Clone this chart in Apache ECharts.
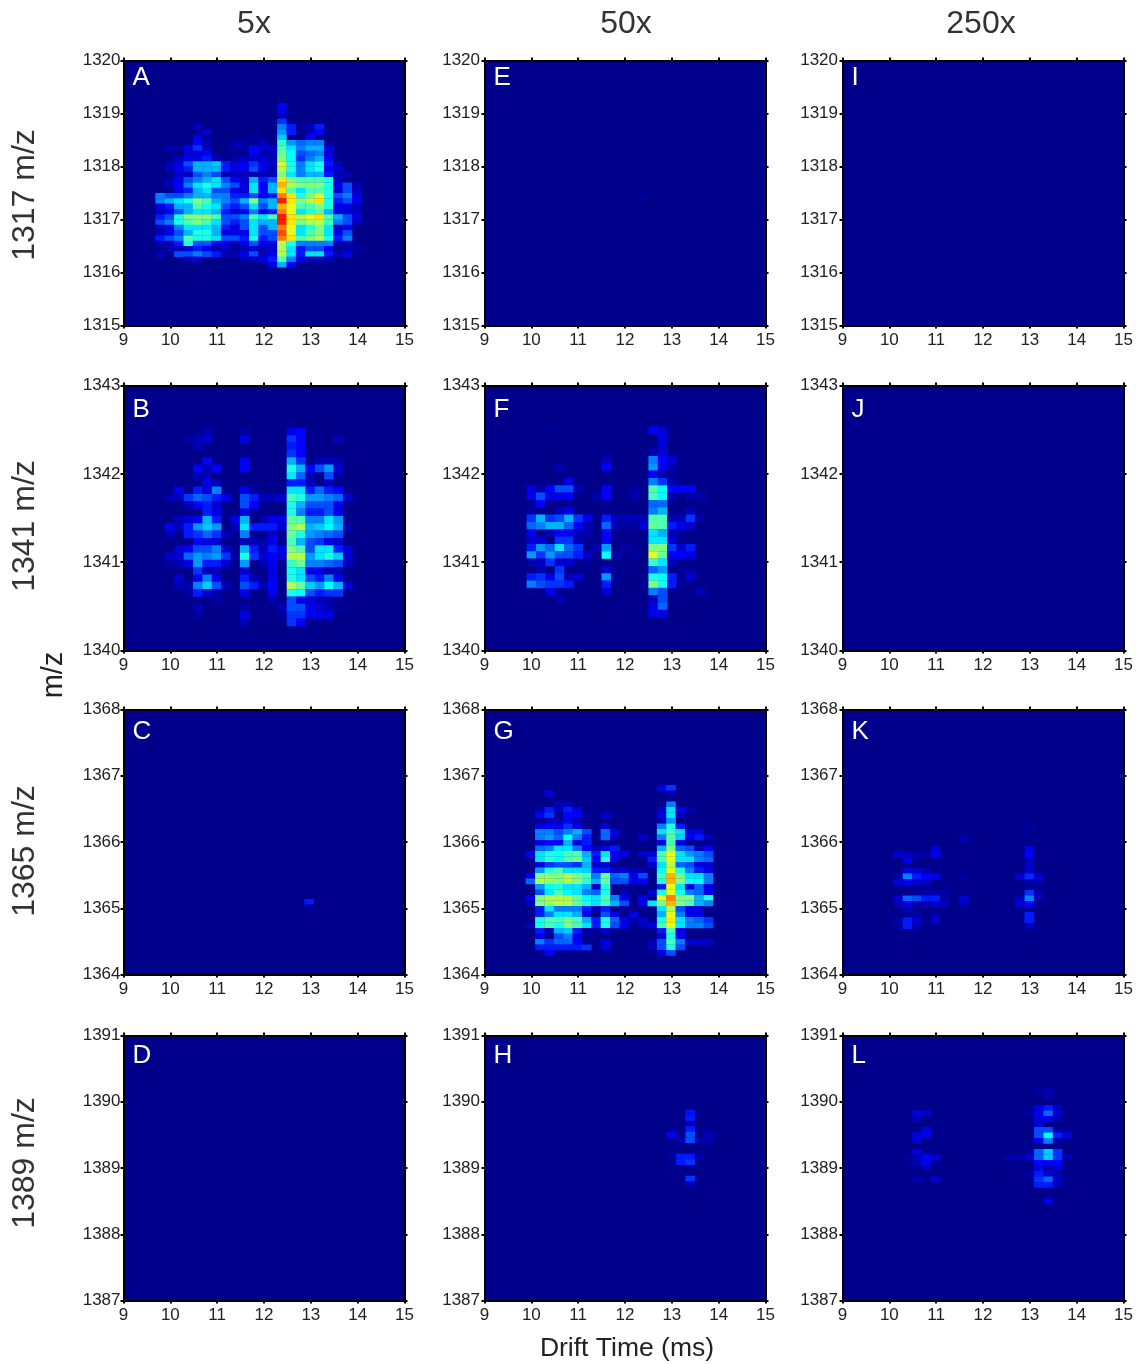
<!DOCTYPE html>
<html>
<head>
<meta charset="utf-8">
<style>html,body{margin:0;padding:0;background:#fff}#c{width:1136px;height:1364px}</style>
<script src="https://cdn.jsdelivr.net/npm/echarts@6/dist/echarts.min.js"></script>
</head>
<body>
<div id="c"></div>
<script>
// Intensity scale: 0..20 on a jet colour map. Rows run top to bottom, columns left to right.
const colTitles = ['5x', '50x', '250x'];
const rowTitles = ['1317 m/z', '1341 m/z', '1365 m/z', '1389 m/z'];
const xTitle = 'Drift Time (ms)';
const yTitle = 'm/z';
const letters = ['A','B','C','D','E','F','G','H','I','J','K','L'];
const xRange = [9, 15];
const yRanges = [[1315, 1320], [1340, 1343], [1364, 1368], [1387, 1391]];

const cellWidthMs = 0.2;

const panelA = [
[0,0,0,0,0,0,0,0,0,0,0,0,0,2.5],
[0,0,0,0,0,0,0,0,0,0,0,0,0,2],
[0,0,0,0,0,0,0,0,0,0,0,0,0,1],
[0,0,0,0,0,0,0,0,0,0,0,0,0,3.5],
[0,0,0,0,1,0,0,0,0,0,0,0,0,5,3,0,1,3],
[0,0,0,0,0,1.5,0,0,0,0,0,0,0,5.5,3,0,1,2.5],
[0,0,0,0,2,0,0,0,0,0,0.5,0,0,6.5,0,0,2.5],
[0,0,0,0,2.5,1,0,0,0.7,0.7,0,1,0,8.5,5.5,4.5,5,5],
[0,0.8,0.5,2,3.5,1,0,0,0.7,0.7,2.5,1.5,1.5,9,7,5,6,6,2],
[0,0,0,1.5,1.5,2.5,0,0,0,0,2.5,0.7,0.7,9.5,7.5,4,4.5,5,1.5],
[0,0,1,2,2,3,1,0,0.8,1,1.5,1.5,0.8,10,7.5,3.5,5,6,2.5],
[0,1,2,4,6,6,6.5,3,1.5,2.5,3.5,2,1.5,12,8,5,7,8,3,1],
[0,1,2,3,6,6,6,3,2,2,4,2,1,11,8,5,7,8,2.5,1.5],
[0,0,1.5,1,4,5,4,1,1,1,1,1,1,10,7,5,6,6,3,1,1],
[0,1,2,4,5,6,7,4,2.5,1.5,6,3,4,13,10,9,9,9,8,1],
[0,1,2.5,5,7,8,7,5,4,2,7,2.5,6,14,11,10,10,10,8,2,4,1],
[0,0,2,3,6,7,4,4,2,1.5,7,2.5,6,13,9,7,9,9,8,1.5,4,1],
[5,4,4,5,6,6,5,5,3,3,4,2,3,15,13,8,10,12,8,4,5,2],
[5,6,7,8,10,9,6,5,4,6,10,5,6,17,13,10,11,13,8,3,4,2],
[2,3,6,6,9,8,7,4,3,4,7,4,6,14,12,9,9,10,8,2,2,1],
[1,2,4,6,7,7,6,3,1.5,2.5,5,2,3,15,12,7,8,9,6,1.5,1.5,1],
[3,4,8,10,10,10,9,4,4,5,9,7,9,17,13,11,12,13,9,6,4,2],
[4,5,8,9,10,9,7,4,3,4,7,6,6,17,13,10,11,11,9,5,4,1],
[1,2,5,7,7,7,6,3,1.5,4,7,4,6,15,12,7,8,10,7,1,2],
[1,2,4,6,8,8,6,2,2,2,7,4,4,16,12,7,9,10,7,2,4],
[3,4,5,9,8,8,7,4,4,3,8,3,4,15,13,9,10,11,8,3,5],
[1,1,3,8,4,4,2,2,1,2,4,2,2,11,8,5,5,5,5,1,1],
[0,1,1,1.5,3,2,1,1,0,1,1.5,0.8,1.5,11,7,3,4,4,2.5,0,0.7,0.5],
[1,0,4,4,5,4,3,1,1,2,4,1,2,11,7,3,7,7,3,1,2],
[0,0,0,1,1.5,0,0,0,0,1,1,2,3,9,5,2,1,1,1],
[0,0,0,0,0,0,0,0,0,0,0,0,2,6,2.5]
];

const panelB = [
[0,0,0,0,0.8,0,0,0,0.5,0,0,0,0,2,2.5],
[0,0,0.5,1,1.5,0,0,0,2,0,0,0,0,3.5,2.5,0,0,0,1],
[0,0,0,1,0,0,0,0,0,0,0,0,0,3,2.5],
[0,0,0,0,0,0,0,0,0,0,0,0,0,3.5,2.5],
[0,0,0,0,2.5,0,0,0,2.5,0,0,0,0,6,3.5,0,1,1,0.8],
[0,0,0,2.5,1,2.5,0,0,2.5,0,0,0,0,8,6,2.5,4,5.5,1.5],
[0,0,0,1,1,0,0,0,0,0,0,0,0,7,4.5,1,0,4,0.5],
[0,0,0,0,2,1,0,0,0,0,0,0,0,3,3,1,0,1],
[0,2,0,3,1.5,5,0,0,2,0.5,0,0,0,7,7,3,4.5,3,2.5],
[1,1,3.5,4.5,4,3,2,0,4,3,1,1,1.5,9,8,5.5,5.5,5,4.5,1.5],
[0,0,1,2.5,3,1.5,0,0,4,2.5,0,0,0,8,6,4,4,4,2],
[0,0,0,0,3,2,0,0,2,0,0,0,0,8,5,3,3,4,2],
[0,1,1.5,2.5,6,3,0,2,6,0,0.8,2,2,9.5,9,5,5,7,5.5],
[2.5,1,3,5.5,6.5,5.5,0,1,7,3,3,3,1.5,10,11,6,6.5,7.5,6,0.8],
[1,0,3,3.5,4.5,3.5,1,0,5,0,0,1.5,0,9.5,8,5.5,5,4.5,4],
[0,0,0,2.5,2,1.5,0,0,1,0.8,0.8,2,0,9,6,4,3.5,2,1.5],
[0,1.5,2.5,4,4,5,1.5,0,6,3,1,3,2,10,9,4,7,7,3,1.5],
[1.5,1.5,4.5,5.5,5,5.5,3.5,0.5,8,3.5,1.5,2.5,1.5,11,11,5.5,7,8,6.5,1.5],
[0.5,0.8,2,5.5,3,3,1.5,0,5.5,0,0.8,2,0,8.5,9.5,5,5,4.5,4,1],
[0,0,0,3.5,1,1,0,0,1.5,0,0,2,0,8,7,2,2,1,1],
[0,1.5,0,2.5,5,2,0,0,3,1,0,2,0,8,7,4,3,5,2],
[0,1,0.8,5,6.5,4,1,0,4,3,0.8,2.5,0,11,9.5,6.5,5.5,7.5,6,1.5],
[0,0,0.5,3,1.5,0.8,0,0,2,0,0,2,0,8,7.5,4,3,3.5,3.5],
[0,0,0,0,0,0.5,0,0,0,0,0,0.8,0,4,2,1.5,1,0.8],
[0,0,0,1,0,0,0,0,0.5,0,0,0,1,4,4,2,1.5,1,0.3],
[0,0,0,0.5,0,0,0,0,2,0,0,0,0.3,3.5,3.5,2,2,2],
[0,0,0,0,0,0,0,0,1,0,0,0,0,3.5,2.5]
];

const panelC = [
[3],
[0.4]
];

const panelD = [];

const panelE = [
[0.4]
];

const panelF = [
[0,0,0.3,0,0,0,0,0,0,0,0,0,0,2.5,1.5],
[0,0,0,0,0,0,0,0,0,0,0,0,0,0,2],
[0,0,0,0,0,0,0,0,0,0,0,0,0,0,1.5],
[0,0,0,0,0,0,0,0,0,0,0,0,0,0.8,1.5],
[0,0,0,0,0,0,0,0,1,0,0,0,0,5,2.5,1.5],
[0,0,0,0.8,0,0,0,0,2.5,0,0,0,0,5.5,2,1],
[0,0,0,0,0,0,0,0,0,0,0,0,0,2.5,0.8],
[0,0,0,0,2,0,0,0,0,0,0,0,0,5,3.5,0.8],
[2,0.7,2.5,4,4,0.8,0,0,2.5,0,0,0.5,0,9,7.5,2.5,2.5,2.5],
[2,4,2,2,2.5,0,0,0.7,2.5,0,0,0.7,0,9,7.5,0.8,0,0.6,0.8],
[0.3,2.5,0,0,0,0,0,0,0.3,0,0,0,0,4.5,4.5],
[0.5,0,0,1,2,0,0,0,0,0,0,0,0,5,6,0,0,1],
[3.5,6,3.5,4,6,3.5,2,0,3,1,1,1,1,9,9,1,1,3.5,0.5],
[4.5,5,6,6,4.5,2.5,0.8,0,4.5,1,0.3,0.4,1.5,9.5,9,3,2,1.5],
[2,0,1,2.5,2,1,0.8,0,2.5,0,0,0,0,7,6,1,0.5],
[1.5,1.5,0,3.5,3.5,0.9,0,0,2.5,0,0,0,0,7,7,1.5],
[3,5.5,4.5,7,4.5,3.5,0,0.8,5.5,0,0.5,0.2,0,10,10,3.5,1.5,3],
[5.5,3.5,5.5,4,4,3,1.5,0,7.5,0.8,0,0.4,0,12,9.5,2.5,2.5,2],
[0.8,1,3.5,1.5,1.5,0,0.3,0,0,0,0,0,0,8.5,7,1],
[0,1,0,3.5,0,0,0,0,1.5,0,0,0,0,4.5,5.5,0,0.3,0.5],
[3,3.5,2,4,1,1.5,0,0,5.5,0.5,0,0,0,8,7.5,3,0,1.5],
[5,4,3.5,3.5,3,0,0,0,3,0,0,0,0.3,10,8,3,0.5],
[0.3,0,2,0.4,0,0,0,0,1.5,0,0,0,0,5,4,0,0,0,1],
[0,0,0,0.8,0,0,0,0,0,0,0,0,0,1,4],
[0,0,0,0,0,0,0,0,0,0,0,0,0,2,4.5],
[0,0,0,0,0,0,0,0,0,0,0,0,0,2,2]
];

const panelG = [
[0,0,0,0,0,0,0,0,0,0,0,0,0,0,2,3.5],
[0,0,2,0,0,0,0,0,0,0,0,0,0,0,0,1],
[],
[0,0,0,1,1,0,0,0,0,0,0,0,0,0,0,5],
[0,1,3,1,3,2,0,0,0,0,0,0,0,0,1.5,7,2,0.7],
[0,2.5,3.5,0,2.5,2.5,0.5,0,1.5,0,0,0,0,0,2,7,1],
[0,0,1,1,2,1,0,0,0,0,0,0,0,0,1,5.5],
[0,2,2.5,2,3.5,2,0,0,1.5,0,0,0,0,0,5,8,3],
[0,5,5,4,5,6,4,0,4.5,2,0,0,0,0,7,9,7,2,2],
[0,5,5.5,4.5,7.5,5,3,0,4.5,1,0,0,1.5,0,5,9,6.5,2,3,1],
[0,2,2.5,2.5,6,2,3,0,0,0,0,0,0,0,2,9,2],
[0,4.5,5,7,7,5,2.5,1,2,3,0,0,0,0,6,10,4.5,4,1,2],
[2,7,8,8,9,9,6,3,7,2,2,0,1.5,1.5,9,12,7,5.5,5,4],
[0,7,8.5,7.5,9,9.5,6.5,2.5,8,2,0,0,0,3,9,12,7,7,5,4.5],
[0,2,3.5,4,4,3.5,6,1.5,1.5,0,0,0,0,1.5,7,11,4.5,4,2,1.5],
[0,5.5,8,9,7,7,6.5,3,3,1.5,1.5,1,1,0,7.5,12,8,5,3,2],
[2,10,10.5,10,11,10,9,5,9.5,4.5,5,2,4,0,9,14,10,7,7,5],
[4.5,11,10.5,10,11,10,8.5,6,9.5,4,4,2,2.5,0,8,14,10,7.5,7.5,5],
[0,5.5,7.5,8,7,7,6,1.5,8,0,0,0,0,0,3,12,7,2,4.5,2],
[0,4,7,9,7.5,7,5,4.5,8,0,1,0,0,1.5,8,12,8,5,4.5,2],
[2,10,11,11,11,9.5,7.5,7,9,5,2,0,2,0,12,15,10,10,6,8],
[1,10,10.5,11,11,9.5,8,7,9,6,4,0,2,7,10,14,10,9,6,5],
[0,3,7,5,5,5,3,1,3,0,0.5,0,0,0,7,11,4,2,1.5],
[0,3,5,7,7,6,2,0,4,2,0,2,0,0,6,12,5,2,2],
[0,8,9,9,10,9,6,3,8,4.5,2,0.8,1.5,0,8,13,7,5,4.5,3.5],
[1,8,9,8,10,9,7,3,8,4,2,0,0.8,2,9,12,7,5,5,4],
[0,3,1,6,6.5,3,0.5,0,1.5,0,0,0,0,0,3,9,2],
[0,2,0,4,5,2,0.5,0,0,0,0,0,0,0,1.5,8,2],
[0,5,3.5,4.5,4.5,2.5,0,0,2,0,0,0,0,1,4,9,5,1.5,1.5,1.5],
[0,3,3,3,3,3,3.5,0,2,0,0,0,0,1,4,8,4],
[0,0,2.5,0,0,0,0,0,0,0,0,0,0,0,2,4]
];

const panelH = [
[0,0,2.8],
[0,0,3],
[0,0,1],
[0.3,0,3,0,0.2],
[2.5,0,4,0,1],
[0,1,4,0.7,0.8],
[],
[0.3],
[0.4,3,3,0.7],
[0,3,3.5],
[0.3],
[],
[0,0,3.5],
[0,0,1]
];

const panelI = [];
const panelJ = [];

const panelK = [
[0,0,0,0,0,0,0,0,0,0,0,0,0,0,0.7],
[],
[0,0,0,0,0,0,0,0.8],
[],
[0,0,0,0,1.5,0,0,0,0,0,0,0,0,0,2],
[1.5,1,0.7,0.7,2.2,0,0,0,0,0,0,0,0,0,2.5],
[0,2,0.3,0,0,0,0,0,0,0,0,0,0,0,1.2],
[0,0,0,0,0,0,0,0,0,0,0,0,0,0,1.2],
[0,2,1.5,0.7,0,0,0,0,0,0,0,0,0,0,1.5],
[0.7,5,3,2.5,2,0,0,0.5,0,0,0,0,0,1.5,3.3,1.5],
[1.5,2.2,1.5,1.2,0,0,0,0,0,0,0,0,0,0,0.7,0.7],
[],
[0,0,0.4,0.7,0.7,0.6,0,0,0,0,0,0,0,0,3.5,0.8],
[1.5,4.5,4,3,3,0.6,0,1.7,0,0,0,0,0,1,5,0.8],
[0.8,2,0.7,0.7,1.5,1,0,1,0,0,0,0,0,1.5,2.5],
[0,1,0,0,0,0,0,0,0,0,0,0,0,0,0.3],
[0,0,0.7,0,0.7,0,0,0,0,0,0,0,0,0,3],
[0.7,3,1.5,0.3,1.5,0,0,0,0,0,0,0,0,0,3],
[0.5,3,0.7,0,0,0,0,0,0,0,0,0,0,0,1]
];

const panelL = [
[0,0,0,0,0,0,0,0,0,0,0,0,0,0,0.5,1],
[0,0,0,0,0,0,0,0,0,0,0,0,0,0,0,0.8],
[],
[0,0,0,0,0,0,0,0,0,0,0,0,0,0,2,3,1.2],
[0,2,1.5,0,0,0,0,0,0,0,0,0,0,0.7,2,4.5,1.5],
[0,1,0,0,0,0,0,0,0,0,0,0,0,0,2,2.2,0.7],
[0,0,0,0,0,0,0,0,0,0,0,0,0,0,1.5],
[0,0,2,0,0,0,0,0,0,0,0,0,0,0,4,4,0.6,0.3],
[0,2,2,0,0,0,0,0,0,0,0,0,0,0,4,7.5,3,2],
[0,1.5,0,0,0,0,0,0,0,0,0,0,0,0,2,5,0.5],
[],
[0,2,0.3,0,0,0,0,0,0,0,0,0,0,0.7,4.5,6.5,3.5],
[0.5,0.8,2.5,1.5,0,0,0,0,0,0,0,0.8,0.8,1.5,4.5,6.5,3.5,1],
[0,1,2,0.3,0,0,0,0,0,0,0,0,0,0,2.5,2.5,2.5],
[0,0,0.8,0,0,0,0,0,0,0,0,0,0,0,2,0.7,1.5],
[0,0,0,0,0,0,0,0,0,0,0,0,0,0.5,3,1.5,0.4],
[0,1,0.3,1.5,0,0,0,0,0,0,0,0,0,0.5,3.5,4.5,1.5,0.3],
[0,0,0,0,0,0,0,0,0,0,0,0,0,0,3,3,1],
[],
[],
[0,0,0,0,0,0,0,0,0,0,0,0,0,0,0,2]
];

const panels = [panelA, panelB, panelC, panelD, panelE, panelF, panelG, panelH, panelI, panelJ, panelK, panelL];
// Left edge (ms) of the first column and top edge (m/z) of the first row in each panel.
const firstDrift = [9.68, 9.885, 12.86, 9, 12.3, 9.9, 9.88, 12.89, 9, 9, 10.087, 10.29];
const firstMz = [1319.2, 1342.52, 1365.14, 1391, 1317.48, 1342.535, 1366.86, 1389.88, 1320, 1343, 1366.27, 1390.2];
const rowStep = [0.1, 0.083, 0.083, 0.083, 0.1, 0.083, 0.083, 0.083, 0.1, 0.083, 0.083, 0.083];

const jet = ['#00008b','#0000ff','#0080ff','#00ffff','#80ff80','#ffff00','#ff8000','#ff0000','#800000'];

const gridLefts = [123.5, 484.5, 842.5];
const gridTops = [60.5, 385.5, 709.5, 1035.5];
const letterTops = [64.5, 396.5, 718.5, 1042.5];
const gridW = 281, gridH = 265;
const font = '"Liberation Sans", Arial, sans-serif';

const grids = [], xAxes = [], yAxes = [], series = [], graphics = [];

function renderCell(params, api) {
  const x = api.value(0), yTop = api.value(1), yBot = api.value(3);
  const a = api.coord([x, yTop]);
  const b = api.coord([x + cellWidthMs, yBot]);
  return {
    type: 'rect',
    shape: { x: a[0], y: a[1], width: b[0] - a[0] + 0.3, height: b[1] - a[1] + 0.3 },
    style: { fill: api.visual('color') }
  };
}

panels.forEach((rows, i) => {
  const col = Math.floor(i / 4), row = i % 4;
  const g = grids.length;
  grids.push({ left: gridLefts[col], top: gridTops[row], width: gridW, height: gridH,
    show: true, backgroundColor: '#00008b', borderWidth: 0, containLabel: false });
  const yr = yRanges[row];
  const line = { show: true, onZero: false, lineStyle: { color: '#000', width: 2 } };
  const tick = { show: true, length: 3, lineStyle: { color: '#000', width: 2 } };
  const lab = { color: '#222', fontFamily: font, fontSize: 17, formatter: v => String(v) };
  xAxes.push({ type: 'value', gridIndex: g, position: 'bottom', min: xRange[0], max: xRange[1], interval: 1,
    axisLine: line, axisTick: tick, splitLine: { show: false },
    axisLabel: Object.assign({ margin: 6, showMinLabel: true, showMaxLabel: true }, lab) });
  xAxes.push({ type: 'value', gridIndex: g, position: 'top', min: xRange[0], max: xRange[1], interval: 1,
    axisLine: line, axisTick: tick, splitLine: { show: false }, axisLabel: { show: false } });
  yAxes.push({ type: 'value', gridIndex: g, position: 'left', min: yr[0], max: yr[1], interval: 1,
    axisLine: line, axisTick: tick, splitLine: { show: false },
    axisLabel: Object.assign({ margin: col === 0 ? 3 : 4.5, showMinLabel: true, showMaxLabel: true }, lab) });
  yAxes.push({ type: 'value', gridIndex: g, position: 'right', min: yr[0], max: yr[1], interval: 1,
    axisLine: line, axisTick: tick, splitLine: { show: false }, axisLabel: { show: false } });

  const data = [];
  rows.forEach((vals, r) => {
    vals.forEach((v, c) => {
      if (v > 0) {
        data.push([firstDrift[i] + c * cellWidthMs, firstMz[i] - r * rowStep[i], v, firstMz[i] - (r + 1) * rowStep[i]]);
      }
    });
  });
  series.push({ type: 'custom', xAxisIndex: g * 2, yAxisIndex: g * 2, coordinateSystem: 'cartesian2d',
    renderItem: renderCell, data: data, clip: true, silent: true, animation: false,
    encode: { x: 0, y: 1 } });
  graphics.push({ type: 'text', left: gridLefts[col] + 9, top: letterTops[row],
    style: { text: letters[i], fill: '#fff', font: '26px ' + font } });
});

colTitles.forEach((t, i) => {
  graphics.push({ type: 'text', x: [254, 626, 981][i], y: 24,
    style: { text: t, fill: '#333', font: '32px ' + font, textAlign: 'center', textVerticalAlign: 'middle' } });
});
rowTitles.forEach((t, i) => {
  graphics.push({ type: 'text', x: 25, y: [195, 526, 851, 1163][i], rotation: Math.PI / 2,
    style: { text: t, fill: '#333', font: '32px ' + font, textAlign: 'center', textVerticalAlign: 'middle' } });
});
graphics.push({ type: 'text', x: 54, y: 675, rotation: Math.PI / 2,
  style: { text: yTitle, fill: '#222', font: '29px ' + font, textAlign: 'center', textVerticalAlign: 'middle' } });
graphics.push({ type: 'text', x: 627, y: 1349,
  style: { text: xTitle, fill: '#222', font: '26.5px ' + font, textAlign: 'center', textVerticalAlign: 'middle' } });

const chart = echarts.init(document.getElementById('c'), null, { renderer: 'canvas', width: 1136, height: 1364 });
chart.setOption({
  animation: false,
  backgroundColor: '#fff',
  grid: grids,
  xAxis: xAxes,
  yAxis: yAxes,
  visualMap: { show: false, type: 'continuous', min: 0, max: 20, dimension: 2, seriesIndex: series.map((s, i) => i), inRange: { color: jet } },
  series: series,
  graphic: graphics
});
</script>
</body>
</html>
